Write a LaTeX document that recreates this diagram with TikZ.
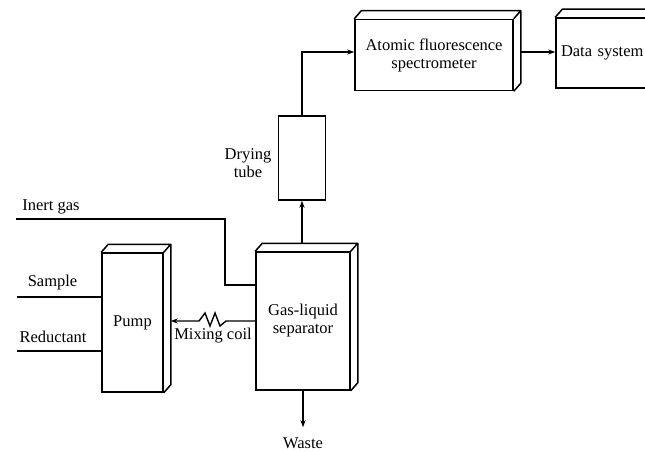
\documentclass[tikz,border=0pt]{standalone}
\usepackage{fontspec}
\setmainfont{Liberation Serif}
\usetikzlibrary{arrows.meta}

\tikzset{
  unit/.style={draw, line width=1.5pt, align=center, inner sep=2pt},
  face/.style={line width=1.5pt, line join=round},
  pipe/.style={line width=1.4pt},
  flow/.style={line width=1.4pt, -{Stealth[length=7pt,width=5pt]}},
  lbl/.style={inner sep=2pt, align=center}
}

\begin{document}
\begin{tikzpicture}[x=1pt, y=-1pt, font=\fontsize{16.5}{18}\selectfont]
\useasboundingbox (0,0) rectangle (645,452);
% units
\node[unit, minimum width=61pt, minimum height=139pt] (pump) at (132.5,322.5) {Pump};
\node[unit, minimum width=94pt, minimum height=138pt] (sep) at (303,321) {Gas-liquid\\separator};
\node[unit, minimum width=47pt, minimum height=84pt] (dry) at (302,158) {};
\node[unit, minimum width=158pt, minimum height=71pt] (afs) at (434,55) {Atomic fluorescence\\spectrometer};
\node[unit, minimum width=100pt, minimum height=70pt, text width=90pt, align=left] (data) at (606,53) {Data system};
\foreach \n in {pump,sep,afs,data}
  \draw[face] (\n.north west) -- ++(7,-8) -- ([shift={(7,-8)}]\n.north east) -- ([shift={(7,-8)}]\n.south east) -- (\n.south east) (\n.north east) -- ++(7,-8);
% labels
\node[lbl] (gaslbl) at (51,207) {Inert gas};
\node[lbl] (samplelbl) at (52.5,283) {Sample};
\node[lbl] (reductlbl) at (53,337) {Reductant};
\node[lbl] (drylbl) at (248,163) {Drying\\tube};
\node[lbl] (coillbl) at (213,336) {Mixing coil};
\node[lbl] (waste) at (303,443) {Waste};
% inlets
\coordinate (gasin) at (16,219);
\coordinate (gasbend) at (225,285);
\draw[pipe] (gasin) -| (gasbend) -- (gasbend -| sep.west);
\coordinate (samplein) at (17,297);
\draw[pipe] (samplein) -- (samplein -| pump.west);
\coordinate (reductin) at (17,351);
\draw[pipe] (reductin) -- (reductin -| pump.west);
% mixing coil
\coordinate (coil) at (212,321);
\coordinate (pumpside) at ([xshift=7pt]pump.east);
\draw[flow] (sep.west) -- ([xshift=14pt]coil) -- ++(-6,5) -- ++(-5,-13) -- ++(-5,13) -- ++(-5,-13) -- ++(-6,8) -- (pumpside |- sep.west);
% gas path
\coordinate (septop) at ([yshift=8pt]sep.north);
\draw[flow] (septop -| dry.south) -- (dry.south);
\draw[flow] (dry.north) |- ([yshift=3pt]afs.west);
\coordinate (signal) at ([xshift=7pt,yshift=3pt]afs.east);
\draw[flow] (signal) -- (signal -| data.west);
\draw[flow] (sep.south) -- ([yshift=8pt]waste.north);
\end{tikzpicture}
\end{document}
